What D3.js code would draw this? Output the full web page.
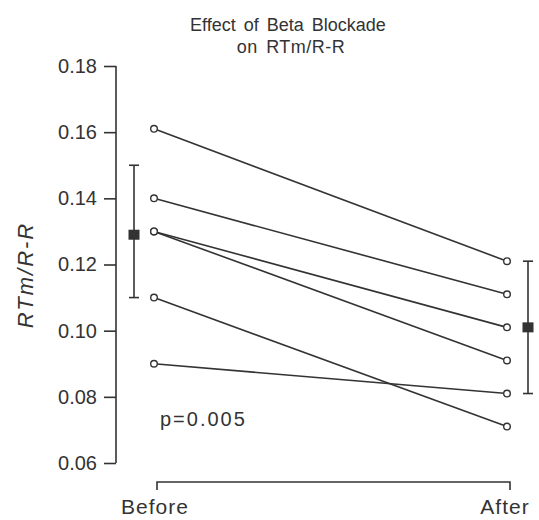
<!DOCTYPE html>
<html lang="en">
<head>
<meta charset="UTF-8">
<title>Effect of Beta Blockade</title>
<style>
  body { margin: 0; background: #fff; }
  svg { display: block; }
  text { font-family: 'Liberation Sans', Arial, sans-serif; fill: #333; }
</style>
</head>
<body>
<svg id="chart" width="539" height="520"></svg>
<script src="https://d3js.org/d3.v7.min.js"></script>
<script>
// data
const phases = ["Before", "After"];
const beforeVals = [0.161, 0.140, 0.130, 0.130, 0.110, 0.090];
const afterVals  = [0.121, 0.111, 0.101, 0.091, 0.071, 0.081];
const meanVals = [0.129, 0.101];
const lowVals  = [0.110, 0.081];
const highVals = [0.150, 0.121];
const yTicks = [0.06, 0.08, 0.10, 0.12, 0.14, 0.16, 0.18];

const ink = "#333";
const svg = d3.select("#chart");

const y = d3.scaleLinear().domain([0.06, 0.18]).range([463, 66]);
const x = d3.scalePoint().domain(phases).range([154, 507]);

// title
svg.append("text").attr("x", 288).attr("y", 31).attr("text-anchor", "middle")
  .style("font-size", "18px").style("word-spacing", "3px").text("Effect of Beta Blockade");
svg.append("text").attr("x", 291).attr("y", 53).attr("text-anchor", "middle")
  .style("font-size", "18px").style("word-spacing", "3px").style("letter-spacing", "0.5px")
  .text("on RTm/R-R");

// y axis
const yAxis = d3.axisLeft(y).tickValues(yTicks).tickFormat(d3.format(".2f"))
  .tickSize(12).tickPadding(7);
const gy = svg.append("g").attr("transform", "translate(116,0)").call(yAxis);
gy.select(".domain").attr("d", `M0,${y(0.18)}V${y(0.06)}`);
gy.selectAll("path, line").attr("stroke", ink).attr("stroke-width", 1.6);
gy.selectAll("text").attr("fill", ink)
  .style("font-family", "'Liberation Sans', Arial, sans-serif").style("font-size", "20px");

svg.append("text")
  .attr("transform", "translate(33,275) rotate(-90)")
  .attr("text-anchor", "middle")
  .style("font-size", "22px").style("font-style", "italic").style("letter-spacing", "2px")
  .text("RTm/R-R");

// x axis: baseline with end ticks
const xb = 482;
svg.append("path")
  .attr("d", `M${x("Before") + 3},${xb + 8}V${xb}H${x("After") + 3}V${xb + 8}`)
  .attr("fill", "none").attr("stroke", ink).attr("stroke-width", 1.6);
svg.selectAll(".xlab").data(phases).enter().append("text")
  .attr("class", "xlab")
  .attr("x", d => x(d) + (d === "Before" ? 1 : -2))
  .attr("y", 514).attr("text-anchor", "middle")
  .style("font-size", "21px").style("letter-spacing", "1px").text(d => d);

// paired lines
const pairs = beforeVals.map((b, i) => [b, afterVals[i]]);
svg.selectAll(".pair").data(pairs).enter().append("line")
  .attr("class", "pair")
  .attr("x1", x("Before")).attr("y1", d => y(d[0]))
  .attr("x2", x("After")).attr("y2", d => y(d[1]))
  .attr("stroke", ink).attr("stroke-width", 1.6);

const pts = [];
beforeVals.forEach(v => pts.push(["Before", v]));
afterVals.forEach(v => pts.push(["After", v]));
svg.selectAll(".pt").data(pts).enter().append("circle")
  .attr("class", "pt")
  .attr("cx", d => x(d[0])).attr("cy", d => y(d[1])).attr("r", 3.3)
  .attr("fill", "#fff").attr("stroke", ink).attr("stroke-width", 1.4);

// mean ± error bars
const bars = phases.map((p, i) => ({ p, m: meanVals[i], lo: lowVals[i], hi: highVals[i], dx: i === 0 ? -20 : 21 }));
const gb = svg.selectAll(".eb").data(bars).enter().append("g")
  .attr("transform", d => `translate(${x(d.p) + d.dx},0)`);
gb.append("line").attr("y1", d => y(d.hi)).attr("y2", d => y(d.lo))
  .attr("stroke", ink).attr("stroke-width", 1.6);
gb.append("line").attr("x1", -5).attr("x2", 5).attr("y1", d => y(d.hi)).attr("y2", d => y(d.hi))
  .attr("stroke", ink).attr("stroke-width", 1.6);
gb.append("line").attr("x1", -5).attr("x2", 5).attr("y1", d => y(d.lo)).attr("y2", d => y(d.lo))
  .attr("stroke", ink).attr("stroke-width", 1.6);
gb.append("rect").attr("x", -5.5).attr("width", 11).attr("height", 10)
  .attr("y", d => y(d.m) - 5).attr("fill", ink);

// p value
svg.append("text").attr("x", 160).attr("y", 426)
  .style("font-size", "20px").style("letter-spacing", "2px").text("p=0.005");
</script>
</body>
</html>
